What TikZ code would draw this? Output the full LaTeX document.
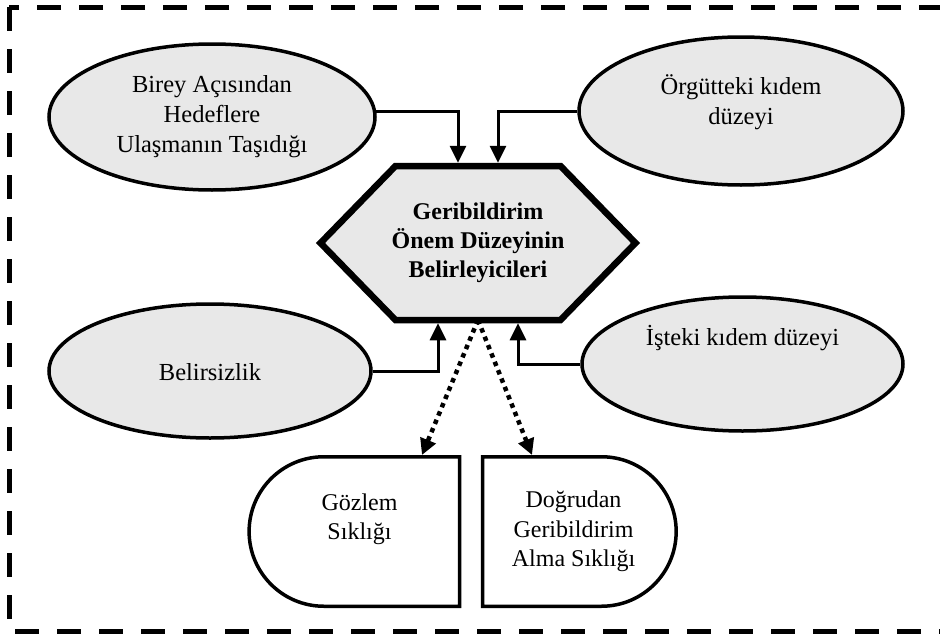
\documentclass[tikz,border=0pt]{standalone}
\usepackage{fontspec}
\setmainfont{Liberation Serif}
\usetikzlibrary{arrows.meta,positioning,calc,shapes.geometric,shapes.misc,backgrounds}
\definecolor{gri}{HTML}{E8E8E8}
\tikzset{
  elips/.style={ellipse,draw,line width=3.5pt,fill=gri,inner sep=0pt,align=center,
    font=\fontsize{24.5}{30}\selectfont},
  merkez/.style={inner sep=0pt,outer sep=0pt,minimum width=315pt,minimum height=154pt,
    align=center,font=\bfseries\fontsize{24}{29}\selectfont},
  altigen/.style={line width=6.5pt,fill=gri,line join=miter},
  altkutu/.style={rounded rectangle,draw,line width=3.5pt,fill=white,inner sep=0pt,
    minimum height=149.5pt,align=center,font=\fontsize{24}{29.5}\selectfont},
  ok/.style={line width=3pt,-{Triangle[length=17pt,width=16pt]}},
  nokta/.style={line width=4.5pt,dash pattern=on 4.5pt off 4.5pt,-{Triangle[length=16pt,width=16pt]}},
  cerceve/.style={line width=5pt,dash pattern=on 24pt off 18pt},
}

\begin{document}
\begin{tikzpicture}[x=1pt,y=-1pt]
  \useasboundingbox (0,0) rectangle (940,637);
  \draw[cerceve] (9,7) -- (9,631) -- (965,631) -- (965,7) -- cycle;
  \node[merkez] (hex) at (478,243) {Geribildirim\\Önem Düzeyinin\\Belirleyicileri};
  \begin{scope}[on background layer]
    \draw[altigen] (hex.west) -- ([xshift=75pt]hex.north west) -- ([xshift=-75pt]hex.north east)
      -- (hex.east) -- ([xshift=-75pt]hex.south east) -- ([xshift=75pt]hex.south west) -- cycle;
  \end{scope}
  \node[elips,minimum width=326pt,minimum height=146pt] (birey) at (212,117)
    {Birey Açısından\\Hedeflere\\Ulaşmanın Taşıdığı};
  \node[elips,minimum width=324pt,minimum height=148pt] (orgut) at (741,111)
    {Örgütteki kıdem\\düzeyi\\[-8pt]\mbox{}};
  \node[elips,minimum width=322pt,minimum height=134pt] (belirsiz) at (210,371)
    {\mbox{}\\[-10pt]Belirsizlik};
  \node[elips,minimum width=321pt,minimum height=134pt] (isteki) at (742.5,364)
    {İşteki kıdem düzeyi\\[28pt]\mbox{}};
  \node[altkutu,rounded rectangle east arc=none,minimum width=210.5pt] (gozlem) at (359.5,531.5)
    {Gözlem\\Sıklığı\\\mbox{}};
  \node[altkutu,rounded rectangle west arc=none,minimum width=193.5pt] (dogrudan) at (573.5,531.5)
    {Doğrudan\\Geribildirim\\Alma Sıklığı};
  \draw[ok,shorten >=3.25pt] (birey.2) -| ([xshift=-20pt]hex.north);
  \draw[ok,shorten >=3.25pt] (orgut.west) -| ([xshift=20pt]hex.north);
  \draw[ok,shorten >=3.25pt] (belirsiz.east) -| ([xshift=-40pt]hex.south);
  \draw[ok,shorten >=3.25pt] (isteki.west) -| ([xshift=40pt]hex.south);
  \draw[nokta] (hex.south) -- ([xshift=62.5pt]gozlem.north);
  \draw[nokta] (hex.south) -- ([xshift=-41.5pt]dogrudan.north);
\end{tikzpicture}
\end{document}
